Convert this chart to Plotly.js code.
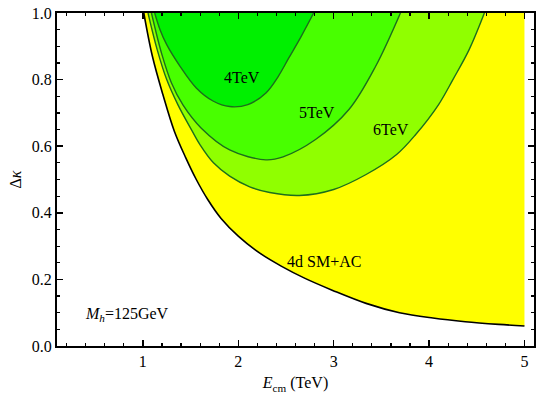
<!DOCTYPE html>
<html>
<head>
<meta charset="utf-8">
<script src="https://cdn.plot.ly/plotly-3.0.1.min.js"></script>
<style>
  body { margin: 0; background: #fff; }
  #myPlot { width: 536px; height: 402px; }
</style>
</head>
<body>
<div id="myPlot"></div>
<script>

// lower bound of the 4d SM + anomalous coupling region (black curve)
let smX = [1.01, 1.1, 1.21, 1.33, 1.45, 1.56, 1.68, 1.82, 2.0, 2.23, 2.45, 2.7, 2.99, 3.34, 3.69, 4.04, 4.38, 4.73, 5.0];
let smY = [1.0, 0.87, 0.755, 0.645, 0.565, 0.50, 0.44, 0.383, 0.33, 0.278, 0.240, 0.203, 0.167, 0.128, 0.100, 0.084, 0.073, 0.065, 0.060];

// contour for 6 TeV
let tev6X = [1.054, 1.15, 1.25, 1.368, 1.51, 1.6, 1.74, 1.91, 2.12, 2.33, 2.64, 3.0, 3.34, 3.66, 3.86, 4.1, 4.25, 4.42, 4.58];
let tev6Y = [1.0, 0.89, 0.80, 0.724, 0.649, 0.604, 0.55, 0.51, 0.478, 0.461, 0.452, 0.47, 0.515, 0.575, 0.635, 0.725, 0.80, 0.89, 1.0];

// contour for 5 TeV
let tev5X = [1.09, 1.2, 1.3, 1.42, 1.61, 1.91, 2.29, 2.47, 2.81, 3.16, 3.44, 3.70];
let tev5Y = [1.0, 0.875, 0.79, 0.724, 0.655, 0.589, 0.559, 0.568, 0.62, 0.71, 0.84, 1.0];

// contour for 4 TeV
let tev4X = [1.124, 1.18, 1.25, 1.39, 1.56, 1.74, 1.91, 2.1, 2.29, 2.42, 2.53, 2.66, 2.79];
let tev4Y = [1.0, 0.95, 0.905, 0.84, 0.775, 0.735, 0.719, 0.725, 0.76, 0.81, 0.865, 0.93, 1.0];

let labelText = ["4TeV", "5TeV", "6TeV", "4d SM+AC"];
let labelX = [2.04, 2.83, 3.60, 2.90];
let labelY = [0.805, 0.70, 0.649, 0.255];

const serif = "Liberation Serif, Times New Roman, serif";

// top edge used to close each filled region along the frame
function topEdge(xs) {
    return {
        x: [xs[0], xs[xs.length - 1]],
        y: [1, 1],
        mode: 'lines',
        line: { width: 0 },
        hoverinfo: 'skip',
        showlegend: false
    };
}

function region(xs, ys, fillColor, lineColor, lineWidth) {
    return {
        x: xs,
        y: ys,
        mode: 'lines',
        line: { shape: 'spline', smoothing: 1, simplify: false, color: lineColor, width: lineWidth },
        fill: 'tonexty',
        fillcolor: fillColor,
        showlegend: false
    };
}

function renderChart() {

    // yellow region closes at x = 5 against the top edge
    const yellowTop = topEdge([smX[0], smX[smX.length - 1]]);
    const yellow = region(smX, smY, '#ffff00', '#000000', 1.6);

    const data = [
        yellowTop, yellow,
        topEdge(tev6X), region(tev6X, tev6Y, '#90ff00', '#1c6e1c', 1.4),
        topEdge(tev5X), region(tev5X, tev5Y, '#48ff00', '#1c6e1c', 1.4),
        topEdge(tev4X), region(tev4X, tev4Y, '#00f000', '#1c6e1c', 1.4)
    ];

    let annotations = [];
    for (let i = 0; i < labelText.length; i++) {
        annotations.push({
            x: labelX[i], y: labelY[i],
            text: labelText[i],
            showarrow: false,
            font: { family: serif, size: 16, color: '#000' }
        });
    }
    annotations.push({
        x: 0.37, y: 0.096,
        xanchor: 'left',
        text: '<i>M</i><sub><i>h</i></sub>=125GeV',
        showarrow: false,
        font: { family: serif, size: 16, color: '#000' }
    });

    const layout = {
        width: 536,
        height: 402,
        margin: { l: 57, r: 2, t: 13, b: 56 },
        paper_bgcolor: '#fff',
        plot_bgcolor: '#fff',
        font: { family: serif, size: 16, color: '#000' },
        xaxis: {
            range: [0.1, 5.1],
            tickvals: [1, 2, 3, 4, 5],
            ticks: 'inside',
            ticklen: 6,
            tickwidth: 1.5,
            tickcolor: '#000',
            minor: { dtick: 0.2, tick0: 0, ticks: 'inside', ticklen: 3, tickwidth: 1.2, tickcolor: '#000' },
            showgrid: false,
            zeroline: false,
            showline: true,
            linecolor: '#000',
            linewidth: 2,
            mirror: 'ticks',
            tickfont: { family: serif, size: 16 },
            title: { text: '<i>E</i><sub>cm</sub> (TeV)', font: { family: serif, size: 16 }, standoff: 8 }
        },
        yaxis: {
            range: [0, 1],
            dtick: 0.2,
            tickformat: '.1f',
            ticks: 'inside',
            ticklen: 6,
            tickwidth: 1.5,
            tickcolor: '#000',
            minor: { dtick: 0.05, ticks: 'inside', ticklen: 3, tickwidth: 1.2, tickcolor: '#000' },
            showgrid: false,
            zeroline: false,
            showline: true,
            linecolor: '#000',
            linewidth: 2,
            mirror: 'ticks',
            tickfont: { family: serif, size: 16 },
            title: { text: 'Δ<i>κ</i>', font: { family: serif, size: 16 }, standoff: 6 }
        },
        annotations: annotations,
        showlegend: false
    };

    Plotly.newPlot('myPlot', data, layout, { staticPlot: true });
}

renderChart();
</script>
</body>
</html>
